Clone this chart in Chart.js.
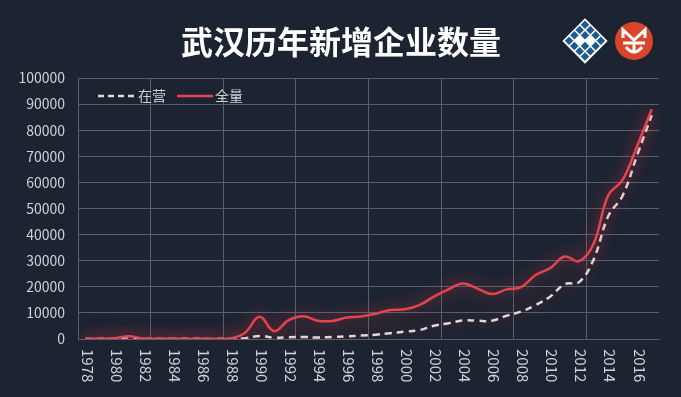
<!DOCTYPE html>
<html lang="zh">
<head>
<meta charset="UTF-8">
<title>武汉历年新增企业数量</title>
<script src="https://cdn.jsdelivr.net/npm/chart.js"></script>
<style>
    body { margin: 0; background: #1c2431; }
    #wrap { width: 681px; height: 397px; position: relative; }
</style>
</head>
<body>
<div id="wrap"><canvas id="chart"></canvas></div>
<script>
    const years = [];
    for (let y = 1978; y <= 2017; y++) years.push(String(y));

    // 全量
    const totalCount = [100, 100, 300, 1100, 150, 100, 100, 100, 100, 100,
        200, 2400, 8500, 3000, 7200, 8700, 7000, 6900, 8200, 8600,
        9700, 11100, 11400, 13000, 16200, 19000, 21300, 19300, 17200, 19000,
        19900, 24500, 27100, 31600, 29800, 36500, 55000, 61000, 74000, 88000];
    // 在营
    const activeCount = [50, 50, 200, 700, 80, 50, 50, 50, 50, 50,
        100, 300, 1150, 550, 700, 800, 550, 800, 1000, 1300,
        1650, 2200, 2800, 3400, 5100, 6000, 7100, 7000, 7000, 8900,
        10500, 13000, 16200, 21000, 21800, 30500, 47000, 55000, 70500, 85800];

    const yTicks = [0, 10000, 20000, 30000, 40000, 50000, 60000, 70000, 80000, 90000, 100000];
    const seriesNames = ['在营', '全量'];
    const titleText = '武汉历年新增企业数量';

    const bg = '#1c2431';
    const gridColor = '#56606b';
    const labelColor = '#cfd2d6';
    const redColor = '#e6434f';
    const dashColor = '#ead4d7';
    const fontFamily = "'Noto Sans CJK SC', 'Noto Sans', sans-serif";

    Chart.defaults.font.family = fontFamily;

    const decor = {
        id: 'decor',
        beforeDraw(chart) {
            const ctx = chart.ctx;
            ctx.save();
            ctx.fillStyle = bg;
            ctx.fillRect(0, 0, chart.width, chart.height);
            ctx.restore();
        },
        beforeDatasetDraw(chart, args) {
            const ctx = chart.ctx;
            ctx.save();
            ctx.shadowColor = args.index === 0 ? 'rgba(255,60,80,0.8)' : 'rgba(230,50,70,0.65)';
            ctx.shadowBlur = 15;
        },
        afterDatasetDraw(chart) {
            chart.ctx.restore();
        },
        afterDraw(chart) {
            const ctx = chart.ctx;
            const xs = chart.scales.x;
            ctx.save();

            // title
            ctx.fillStyle = '#ffffff';
            ctx.font = "bold 32px " + fontFamily;
            ctx.textAlign = 'center';
            ctx.textBaseline = 'middle';
            ctx.fillText(titleText, 341, 42);

            // x labels, rotated clockwise
            ctx.fillStyle = labelColor;
            ctx.font = "15px " + fontFamily;
            ctx.textAlign = 'left';
            ctx.textBaseline = 'middle';
            years.forEach((yr, i) => {
                if (i % 2 !== 0) return;
                ctx.save();
                ctx.translate(xs.getPixelForValue(i) + 2, 349);
                ctx.rotate(Math.PI / 2);
                ctx.fillText(yr, 0, 0);
                ctx.restore();
            });

            // legend
            ctx.font = "14px " + fontFamily;
            const ly = 96;
            ctx.lineWidth = 2.5;
            ctx.strokeStyle = dashColor;
            ctx.setLineDash([6, 4]);
            ctx.beginPath(); ctx.moveTo(98, ly); ctx.lineTo(137, ly); ctx.stroke();
            ctx.setLineDash([]);
            ctx.strokeStyle = redColor;
            ctx.beginPath(); ctx.moveTo(177, ly); ctx.lineTo(213, ly); ctx.stroke();
            ctx.fillStyle = labelColor;
            ctx.fillText(seriesNames[0], 138, ly);
            ctx.fillText(seriesNames[1], 215, ly);

            // logo 1: diamond lattice
            ctx.save();
            ctx.translate(585, 41);
            ctx.rotate(Math.PI / 4);
            ctx.fillStyle = '#ffffff';
            ctx.fillRect(-16, -16, 32, 32);
            ctx.fillStyle = '#1d5a8f';
            for (let r = 0; r < 4; r++) {
                for (let c = 0; c < 4; c++) {
                    if ((r + c) % 2 === 1 && r > 0 && r < 3 && c > 0 && c < 3) continue;
                    ctx.fillRect(-14.5 + c * 7.5, -14.5 + r * 7.5, 6, 6);
                }
            }
            ctx.restore();

            // logo 2: red circle
            ctx.fillStyle = '#d9442a';
            ctx.beginPath(); ctx.arc(634, 41, 19, 0, Math.PI * 2); ctx.fill();
            ctx.strokeStyle = '#ffffff';
            ctx.lineWidth = 3;
            ctx.beginPath();
            ctx.moveTo(623, 38); ctx.lineTo(623, 30); ctx.lineTo(634, 40); ctx.lineTo(645, 30); ctx.lineTo(645, 38);
            ctx.stroke();
            ctx.beginPath();
            ctx.moveTo(623, 43); ctx.lineTo(645, 43);
            ctx.moveTo(626, 47); ctx.quadraticCurveTo(634, 57, 642, 47);
            ctx.moveTo(634, 43); ctx.lineTo(634, 52);
            ctx.stroke();

            ctx.restore();
        }
    };

    new Chart(document.getElementById('chart'), {
        type: 'line',
        data: {
            labels: years,
            datasets: [
                {
                    label: seriesNames[1],
                    data: totalCount,
                    borderColor: redColor,
                    borderWidth: 2.5,
                    pointRadius: 0,
                    tension: 0.4,
                    fill: false
                },
                {
                    label: seriesNames[0],
                    data: activeCount,
                    borderColor: dashColor,
                    borderWidth: 2.5,
                    borderDash: [7, 5],
                    pointRadius: 0,
                    tension: 0.4,
                    fill: false
                }
            ]
        },
        options: {
            responsive: true,
            maintainAspectRatio: false,
            animation: false,
            layout: { padding: { top: 78, right: 22, left: 0, bottom: 0 } },
            plugins: {
                legend: { display: false },
                tooltip: { enabled: false }
            },
            scales: {
                x: {
                    offset: true,
                    afterFit(scale) { scale.height = 58; },
                    grid: {
                        offset: true,
                        drawTicks: false,
                        color: ctx => (ctx.index % 5 === 0 ? gridColor : 'rgba(0,0,0,0)')
                    },
                    border: { color: gridColor },
                    ticks: { display: false, autoSkip: false }
                },
                y: {
                    min: 0,
                    max: 100000,
                    afterFit(scale) { scale.width = 78; },
                    afterBuildTicks(scale) { scale.ticks = yTicks.map(v => ({ value: v })); },
                    grid: { color: gridColor, drawTicks: false },
                    border: { color: gridColor },
                    ticks: {
                        padding: 13,
                        color: labelColor,
                        font: { size: 14 },
                        callback: v => String(v)
                    }
                }
            }
        },
        plugins: [decor]
    });
</script>
</body>
</html>
